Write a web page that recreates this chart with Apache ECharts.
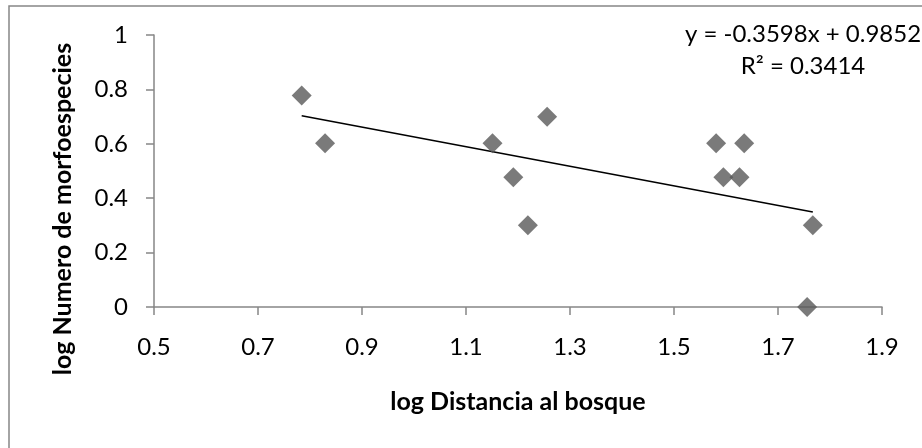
<!DOCTYPE html>
<html>
<head>
<meta charset="utf-8">
<script src="https://cdn.jsdelivr.net/npm/echarts@6/dist/echarts.min.js"></script>
<style>
  html, body { margin: 0; padding: 0; background: #fff; }
  #chart { width: 922px; height: 448px; }
</style>
</head>
<body>
<div id="chart"></div>
<script>
// log distance to forest (x) and log number of morphospecies (y)
const logDistancia = [0.784, 0.829, 1.151, 1.256, 1.191, 1.219, 1.581, 1.635, 1.595, 1.626, 1.767, 1.756];
const logMorfoespecies = [0.778, 0.602, 0.602, 0.699, 0.477, 0.301, 0.602, 0.602, 0.477, 0.477, 0.301, 0];

// linear trend: y = slope * x + intercept
const slope = -0.3598;
const intercept = 0.9852;
const rSquared = 0.3414;

const xTicks = [0.5, 0.7, 0.9, 1.1, 1.3, 1.5, 1.7, 1.9];
const yTicks = [0, 0.2, 0.4, 0.6, 0.8, 1];

const xTitle = 'log Distancia al bosque';
const yTitle = 'log Numero de morfoespecies';

const points = logDistancia.map((x, i) => [x, logMorfoespecies[i]]);
const xMin = Math.min(...logDistancia);
const xMax = Math.max(...logDistancia);
const trend = [[xMin, slope * xMin + intercept], [xMax, slope * xMax + intercept]];

const FONT = 'Lato, "Open Sans", sans-serif';
const axisGray = '#868686';

const chart = echarts.init(document.getElementById('chart'), null, { renderer: 'canvas' });
chart.setOption({
  animation: false,
  backgroundColor: '#ffffff',
  grid: { left: 154, right: 40, top: 35, bottom: 141, containLabel: false },
  xAxis: {
    type: 'value',
    min: xTicks[0],
    max: xTicks[xTicks.length - 1],
    interval: 0.2,
    name: xTitle,
    nameLocation: 'middle',
    nameGap: 82,
    nameTextStyle: { fontFamily: FONT, fontWeight: 'bold', fontSize: 25, color: '#000' },
    axisLine: { show: true, onZero: false, lineStyle: { color: axisGray, width: 1.5 } },
    axisTick: { show: true, length: 8, lineStyle: { color: axisGray, width: 1.5 } },
    axisLabel: {
      fontFamily: FONT, fontSize: 24, color: '#000', margin: 28,
      formatter: v => { const t = xTicks.find(k => Math.abs(k - v) < 1e-6); return t === undefined ? '' : String(t); }
    },
    splitLine: { show: false }
  },
  yAxis: {
    type: 'value',
    min: 0,
    max: 1,
    interval: 0.2,
    axisLine: { show: true, lineStyle: { color: axisGray, width: 1.5 } },
    axisTick: { show: true, length: 8, lineStyle: { color: axisGray, width: 1.5 } },
    axisLabel: {
      fontFamily: FONT, fontSize: 24, color: '#000', margin: 26,
      formatter: v => { const t = yTicks.find(k => Math.abs(k - v) < 1e-6); return t === undefined ? '' : String(t); }
    },
    splitLine: { show: false }
  },
  graphic: [
    {
      type: 'rect', silent: true, z: -1,
      shape: { x: 9, y: 6, width: 940, height: 470 },
      style: { fill: 'none', stroke: '#878787', lineWidth: 1.5 }
    },
    {
      // vertical y-axis title
      type: 'text', x: 63, y: 209, rotation: Math.PI / 2,
      style: {
        text: yTitle,
        font: 'bold 25px ' + FONT, fill: '#000', align: 'center', verticalAlign: 'middle'
      }
    },
    {
      type: 'text', x: 803, y: 34,
      style: {
        text: 'y = ' + slope.toFixed(4) + 'x + ' + intercept.toFixed(4),
        font: '24px ' + FONT, fill: '#000', align: 'center', verticalAlign: 'middle'
      }
    },
    {
      type: 'text', x: 803, y: 66,
      style: {
        text: 'R² = ' + rSquared.toFixed(4),
        font: '24px ' + FONT, fill: '#000', align: 'center', verticalAlign: 'middle'
      }
    }
  ],
  series: [
    {
      type: 'scatter',
      data: points,
      symbol: 'diamond',
      symbolSize: 20,
      itemStyle: { color: '#595959' },
      z: 3
    },
    {
      type: 'line',
      data: trend,
      showSymbol: false,
      symbol: 'none',
      lineStyle: { color: '#000', width: 1.5 },
      z: 2
    }
  ]
});
</script>
</body>
</html>
